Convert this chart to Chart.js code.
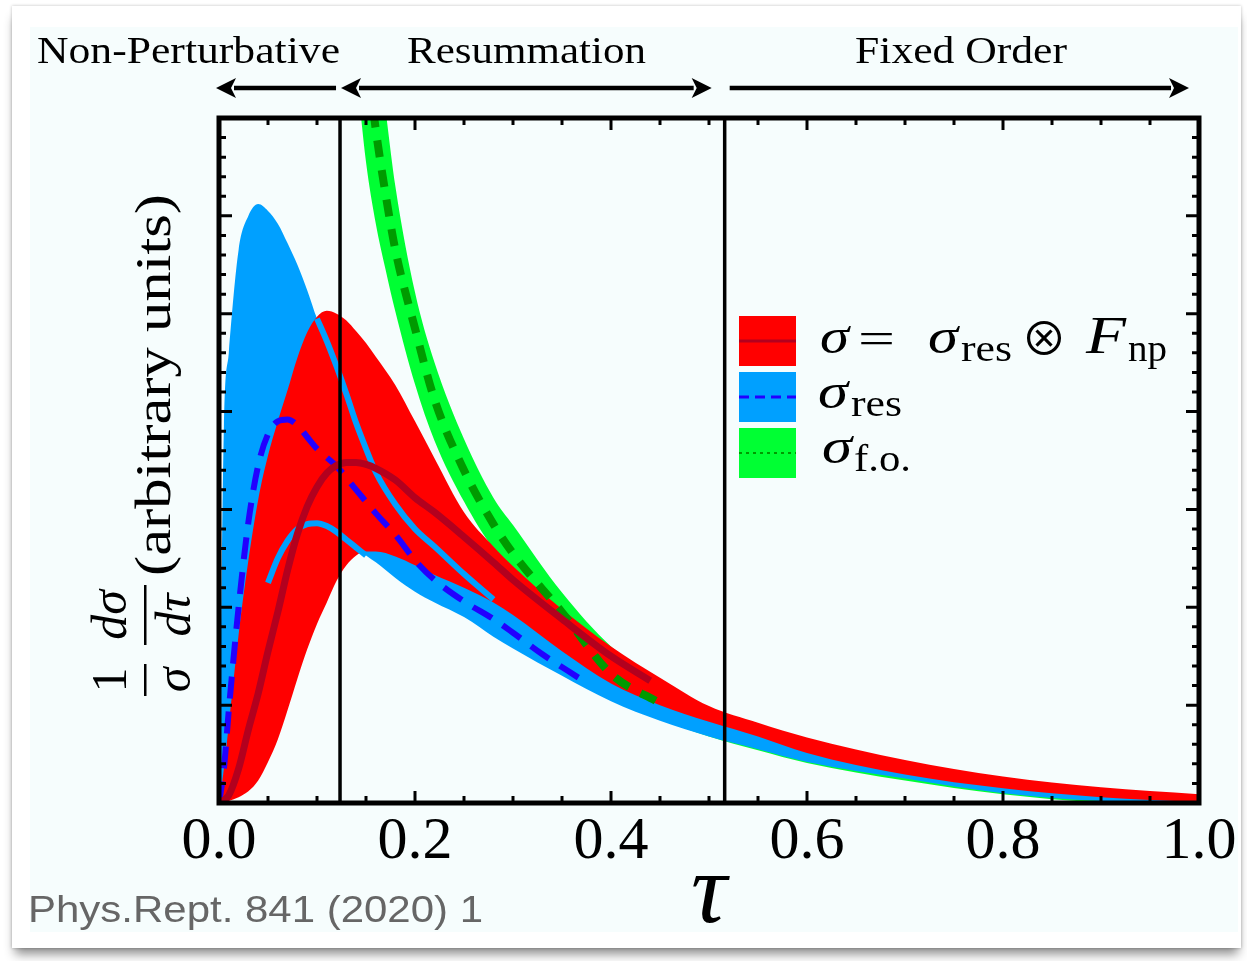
<!DOCTYPE html>
<html>
<head>
<meta charset="utf-8">
<title>Thrust distribution: non-perturbative, resummation and fixed-order regions</title>
<script src="https://cdn.jsdelivr.net/npm/chart.js@4.4.1/dist/chart.umd.min.js"></script>
<style>
    html, body { margin: 0; padding: 0; background: #fff; }
    body { width: 1247px; height: 961px; position: relative; overflow: hidden; }
    .card { position: absolute; left: 12px; top: 6px; width: 1229px; height: 942px; background: #fff;
            box-shadow: 0 9px 10px -3px rgba(0,0,0,0.45), 0 0 3px rgba(0,0,0,0.25); }
    .panel { position: absolute; left: 30px; top: 27px; width: 1208px; height: 905px; background: #f6fdfd; }
    #chart { position: absolute; left: 0; top: 0; }
</style>
</head>
<body>
<div class="card"></div>
<div class="panel"></div>
<canvas id="chart" width="1247" height="961"></canvas>
<script>
// tau grid shared by the sigma and sigma_res bands
const tau = [0, 0.005, 0.01, 0.02, 0.03, 0.04, 0.05, 0.06, 0.07, 0.08, 0.09, 0.1, 0.11, 0.12, 0.13,
             0.14, 0.15, 0.16, 0.18, 0.2, 0.22, 0.25, 0.28, 0.3, 0.35, 0.4, 0.45, 0.5, 0.55, 0.6,
             0.7, 0.8, 0.9, 1.0];

// sigma_res band (blue)
const resUpper = [0, 3.85, 4.6, 5.65, 6.0, 6.12, 6.05, 5.92, 5.72, 5.5, 5.24, 4.95, 4.72, 4.46, 4.18,
                  3.88, 3.62, 3.38, 3.05, 2.8, 2.62, 2.34, 2.08, 1.97, 1.68, 1.38, 1.12, 0.9, 0.74, 0.58,
                  0.36, 0.2, 0.1, 0.03];
const resLower = [0, 0.3, 0.6, 1.1, 1.5, 1.85, 2.25, 2.5, 2.68, 2.8, 2.85, 2.86, 2.83, 2.77, 2.69,
                  2.61, 2.53, 2.46, 2.3, 2.16, 2.05, 1.9, 1.7, 1.58, 1.3, 1.04, 0.84, 0.68, 0.55, 0.42,
                  0.25, 0.1, 0.02, 0];

// sigma = sigma_res (x) F_np band (red)
const fullUpper = [0, 0.35, 0.8, 1.72, 2.48, 3.1, 3.55, 3.9, 4.22, 4.55, 4.81, 4.97, 5.03, 5.0, 4.93,
                   4.82, 4.7, 4.56, 4.27, 3.9, 3.52, 2.97, 2.62, 2.42, 1.98, 1.6, 1.28, 0.99, 0.82, 0.67,
                   0.44, 0.27, 0.16, 0.09];
const fullLower = [0, 0, 0.02, 0.06, 0.12, 0.23, 0.42, 0.65, 0.95, 1.27, 1.57, 1.83, 2.05, 2.27, 2.43,
                   2.53, 2.57, 2.57, 2.52, 2.43, 2.33, 2.2, 2.05, 1.92, 1.55, 1.22, 1.0, 0.83, 0.68, 0.51,
                   0.29, 0.15, 0.06, 0.01];

// fixed-order band (green) and its central curve
const foTau = [0.14, 0.15, 0.16, 0.17, 0.18, 0.2, 0.22, 0.25, 0.28, 0.3, 0.35, 0.4, 0.45, 0.5, 0.55,
               0.6, 0.7, 0.8, 0.9, 1.0];
const foUpper = [9.6, 8.7, 7.9, 7.08, 6.3, 5.22, 4.5, 3.72, 3.12, 2.84, 2.15, 1.6, 1.24, 0.97, 0.8,
                 0.64, 0.41, 0.24, 0.13, 0.06];
const foLower = [7.5, 6.55, 5.92, 5.45, 5.02, 4.28, 3.7, 3.08, 2.6, 2.4, 1.68, 1.12, 0.86, 0.68, 0.54,
                 0.41, 0.23, 0.09, 0.01, 0];
const foCentralTau = [0.14, 0.15, 0.16, 0.17, 0.18, 0.2, 0.22, 0.25, 0.28, 0.3, 0.35, 0.4, 0.45];
const foCentral = [8.6, 7.7, 6.88, 6.22, 5.65, 4.85, 4.12, 3.4, 2.85, 2.55, 1.95, 1.32, 1.02];

// central curves of sigma_res (dashed) and sigma (solid)
const resCentralTau = [0, 0.005, 0.01, 0.02, 0.03, 0.04, 0.05, 0.06, 0.07, 0.08, 0.09, 0.1, 0.12, 0.14,
                       0.16, 0.18, 0.2, 0.22, 0.25, 0.28, 0.3, 0.33, 0.37];
const resCentral = [0, 0.35, 0.95, 2.0, 2.87, 3.45, 3.77, 3.9, 3.92, 3.86, 3.74, 3.62, 3.44, 3.2,
                    2.96, 2.74, 2.48, 2.28, 2.06, 1.88, 1.74, 1.52, 1.26];
const fullCentralTau = [0, 0.01, 0.02, 0.03, 0.04, 0.05, 0.06, 0.07, 0.08, 0.09, 0.1, 0.11, 0.12, 0.13,
                        0.14, 0.15, 0.16, 0.18, 0.2, 0.22, 0.25, 0.28, 0.3, 0.35, 0.4, 0.44];
const fullCentral = [0, 0.08, 0.35, 0.75, 1.12, 1.55, 1.95, 2.38, 2.75, 3.03, 3.23, 3.37, 3.45, 3.48,
                     3.48, 3.46, 3.42, 3.3, 3.12, 2.97, 2.72, 2.46, 2.28, 1.88, 1.5, 1.25];

// region boundaries, names and axis ticks
const regionBounds = [0.1235, 0.516];
const regionNames = ['Non-Perturbative', 'Resummation', 'Fixed Order'];
const xTickValues = [0, 0.2, 0.4, 0.6, 0.8, 1.0];
const xMinorStep = 0.05;
const yMax = 7;
const yMinorStep = 0.2;

const COLORS = {
    blue: '#00a0ff',
    red: '#ff0000',
    green: '#00ff33',
    darkRed: '#b3001e',
    darkGreen: '#009a00',
    dashBlue: '#2200ff'
};
const SERIF = '"Liberation Serif", "DejaVu Serif", serif';

const pts = (xs, ys) => xs.map((x, i) => ({ x, y: ys[i] }));
const within = (xs, ys, a, b) => pts(xs, ys).filter(p => p.x >= a && p.x <= b);

function fitText(ctx, text, x, y, width) {
    const w = ctx.measureText(text).width;
    ctx.save();
    ctx.translate(x, y);
    if (width) ctx.scale(width / w, 1);
    ctx.fillText(text, 0, 0);
    ctx.restore();
}

function bandEdge(data, color, fill, order) {
    return {
        data, order, fill,
        backgroundColor: color,
        borderColor: 'transparent',
        borderWidth: 0,
        pointRadius: 0,
        cubicInterpolationMode: 'monotone'
    };
}

function curve(data, color, width, dash, order) {
    return {
        data, order,
        fill: false,
        borderColor: color,
        borderWidth: width,
        borderDash: dash,
        pointRadius: 0,
        cubicInterpolationMode: 'monotone'
    };
}

function drawArrow(ctx, x1, x2, y, headLeft, headRight) {
    const hl = 20, hw = 10;
    ctx.lineWidth = 4.5;
    ctx.beginPath();
    ctx.moveTo(headLeft ? x1 + hl - 2 : x1, y);
    ctx.lineTo(headRight ? x2 - hl + 2 : x2, y);
    ctx.stroke();
    const head = (tip, dir) => {
        ctx.beginPath();
        ctx.moveTo(tip, y);
        ctx.lineTo(tip + dir * hl, y - hw);
        ctx.lineTo(tip + dir * (hl - 5), y);
        ctx.lineTo(tip + dir * hl, y + hw);
        ctx.closePath();
        ctx.fill();
    };
    if (headLeft) head(x1, 1);
    if (headRight) head(x2, -1);
}

const decorations = {
    id: 'decorations',
    afterDatasetsDraw(chart) {
        const ctx = chart.ctx;
        const xs = chart.scales.x, ys = chart.scales.y;
        const { left, right, top, bottom } = chart.chartArea;
        ctx.save();
        ctx.strokeStyle = '#000';
        ctx.fillStyle = '#000';

        // region boundaries
        ctx.lineWidth = 3.5;
        regionBounds.forEach(b => {
            const px = xs.getPixelForValue(b);
            ctx.beginPath(); ctx.moveTo(px, top); ctx.lineTo(px, bottom); ctx.stroke();
        });

        // ticks on all four sides
        ctx.lineWidth = 3;
        const nx = Math.round(1 / xMinorStep);
        for (let k = 0; k <= nx; k++) {
            const px = xs.getPixelForValue(k * xMinorStep);
            const len = k % 4 === 0 ? 12 : 7;
            ctx.beginPath();
            ctx.moveTo(px, bottom); ctx.lineTo(px, bottom - len);
            ctx.moveTo(px, top); ctx.lineTo(px, top + len);
            ctx.stroke();
        }
        const ny = Math.round(yMax / yMinorStep);
        for (let k = 0; k <= ny; k++) {
            const py = ys.getPixelForValue(k * yMinorStep);
            const len = k % 5 === 0 ? 13 : 7;
            ctx.beginPath();
            ctx.moveTo(left, py); ctx.lineTo(left + len, py);
            ctx.moveTo(right, py); ctx.lineTo(right - len, py);
            ctx.stroke();
        }

        // frame
        ctx.lineWidth = 5;
        ctx.strokeRect(left, top, right - left, bottom - top);

        // region arrows and names
        const b0 = xs.getPixelForValue(regionBounds[0]);
        const b1 = xs.getPixelForValue(regionBounds[1]);
        drawArrow(ctx, left - 3, b0 - 4, 88, true, false);
        drawArrow(ctx, b0 + 1, b1 - 13, 88, true, true);
        drawArrow(ctx, b1 + 5, right - 10, 88, false, true);
        ctx.font = '38px ' + SERIF;
        ctx.textBaseline = 'alphabetic';
        ctx.textAlign = 'left';
        fitText(ctx, regionNames[0], 37, 63, 303);
        fitText(ctx, regionNames[1], 407, 63, 239);
        fitText(ctx, regionNames[2], 855, 63, 212);

        // legend
        const boxY = [316, 372, 428];
        const boxColors = [COLORS.red, COLORS.blue, COLORS.green];
        boxY.forEach((y, i) => {
            ctx.fillStyle = boxColors[i];
            ctx.fillRect(739, y, 57, 50);
        });
        ctx.lineWidth = 3;
        ctx.strokeStyle = COLORS.darkRed;
        ctx.beginPath(); ctx.moveTo(739, 341); ctx.lineTo(796, 341); ctx.stroke();
        ctx.strokeStyle = COLORS.dashBlue;
        ctx.setLineDash([10, 6]);
        ctx.beginPath(); ctx.moveTo(739, 397); ctx.lineTo(796, 397); ctx.stroke();
        ctx.strokeStyle = COLORS.darkGreen;
        ctx.lineWidth = 2;
        ctx.setLineDash([3, 4]);
        ctx.beginPath(); ctx.moveTo(739, 453); ctx.lineTo(796, 453); ctx.stroke();
        ctx.setLineDash([]);

        ctx.fillStyle = '#000';
        const IT = 'italic 50px ' + SERIF, RM = '44px ' + SERIF, SUB = '38px ' + SERIF;
        const OTIMES = '44px "Noto Sans CJK JP", "DejaVu Sans", sans-serif';
        const runs = [
            [353, [['σ', IT, 820, 29], ['=', RM, 858, 37], ['σ', IT, 928, 30], ['res', SUB, 961, 51, 8],
                   ['⊗', OTIMES, 1021, 46, 2], ['F', 'italic 52px ' + SERIF, 1086, 40], ['np', SUB, 1128, 39, 8]]],
            [408, [['σ', IT, 818, 30], ['res', SUB, 851, 51, 8]]],
            [463, [['σ', IT, 822, 30], ['f.o.', SUB, 854, 57, 8]]]
        ];
        runs.forEach(([base, parts]) => {
            parts.forEach(([t, f, x, w, dy]) => {
                ctx.font = f;
                fitText(ctx, t, x, base + (dy || 0), w);
            });
        });

        // y axis label
        ctx.save();
        ctx.translate(150, bottom);
        ctx.rotate(-Math.PI / 2);
        ctx.textAlign = 'center';
        ctx.font = '50px ' + SERIF;
        ctx.fillText('1', 123, -24);
        ctx.font = 'italic 50px ' + SERIF;
        ctx.fillText('σ', 123, 40);
        ctx.fillText('dσ', 188, -24);
        ctx.fillText('dτ', 188, 40);
        ctx.fillRect(107, -6, 32, 2.5);
        ctx.fillRect(158, -6, 60, 2.5);
        ctx.textAlign = 'left';
        ctx.font = '50px ' + SERIF;
        fitText(ctx, '(arbitrary units)', 227, 20, 382);
        ctx.restore();

        // citation
        ctx.fillStyle = '#666';
        ctx.font = '36px "Liberation Sans", Arial, sans-serif';
        fitText(ctx, 'Phys.Rept. 841 (2020) 1', 28, 922, 455);

        ctx.restore();
    }
};

const datasets = [
    curve(pts(fullCentralTau, fullCentral), COLORS.darkRed, 7, [], 0),
    curve(pts(foCentralTau, foCentral), COLORS.darkGreen, 8, [17, 13], 1),
    curve(pts(resCentralTau, resCentral), COLORS.dashBlue, 6, [22, 13], 2),
    curve(within(tau, resUpper, 0.1, 0.28), COLORS.blue, 6, [], 3),
    curve(within(tau, resLower, 0.05, 0.15), COLORS.blue, 6, [], 4),
    bandEdge(pts(tau, fullUpper), COLORS.red, '+1', 5),
    bandEdge(pts(tau, fullLower), COLORS.red, false, 6),
    bandEdge(pts(tau, resUpper), COLORS.blue, '+1', 7),
    bandEdge(pts(tau, resLower), COLORS.blue, false, 8),
    bandEdge(pts(foTau, foUpper), COLORS.green, '+1', 9),
    bandEdge(pts(foTau, foLower), COLORS.green, false, 10)
];

new Chart(document.getElementById('chart'), {
    type: 'line',
    data: { datasets },
    options: {
        responsive: false,
        animation: false,
        devicePixelRatio: 1,
        layout: { padding: { left: 219, right: 48, top: 118, bottom: 0 } },
        plugins: {
            legend: { display: false },
            tooltip: { enabled: false }
        },
        scales: {
            x: {
                type: 'linear',
                min: 0,
                max: 1,
                grid: { display: false, drawTicks: false },
                border: { display: false },
                afterBuildTicks: s => { s.ticks = xTickValues.map(v => ({ value: v })); },
                afterFit: s => { s.height = 158; },
                ticks: {
                    color: '#000',
                    padding: 3,
                    maxRotation: 0,
                    autoSkip: false,
                    font: { family: SERIF, size: 60 },
                    callback: v => v.toFixed(1)
                },
                title: {
                    display: true,
                    text: 'τ',
                    color: '#000',
                    font: { family: SERIF, size: 100, style: 'italic', lineHeight: 1 },
                    padding: { top: 0, bottom: 15 }
                }
            },
            y: {
                type: 'linear',
                min: 0,
                max: yMax,
                display: false
            }
        }
    },
    plugins: [decorations]
});
</script>
</body>
</html>
